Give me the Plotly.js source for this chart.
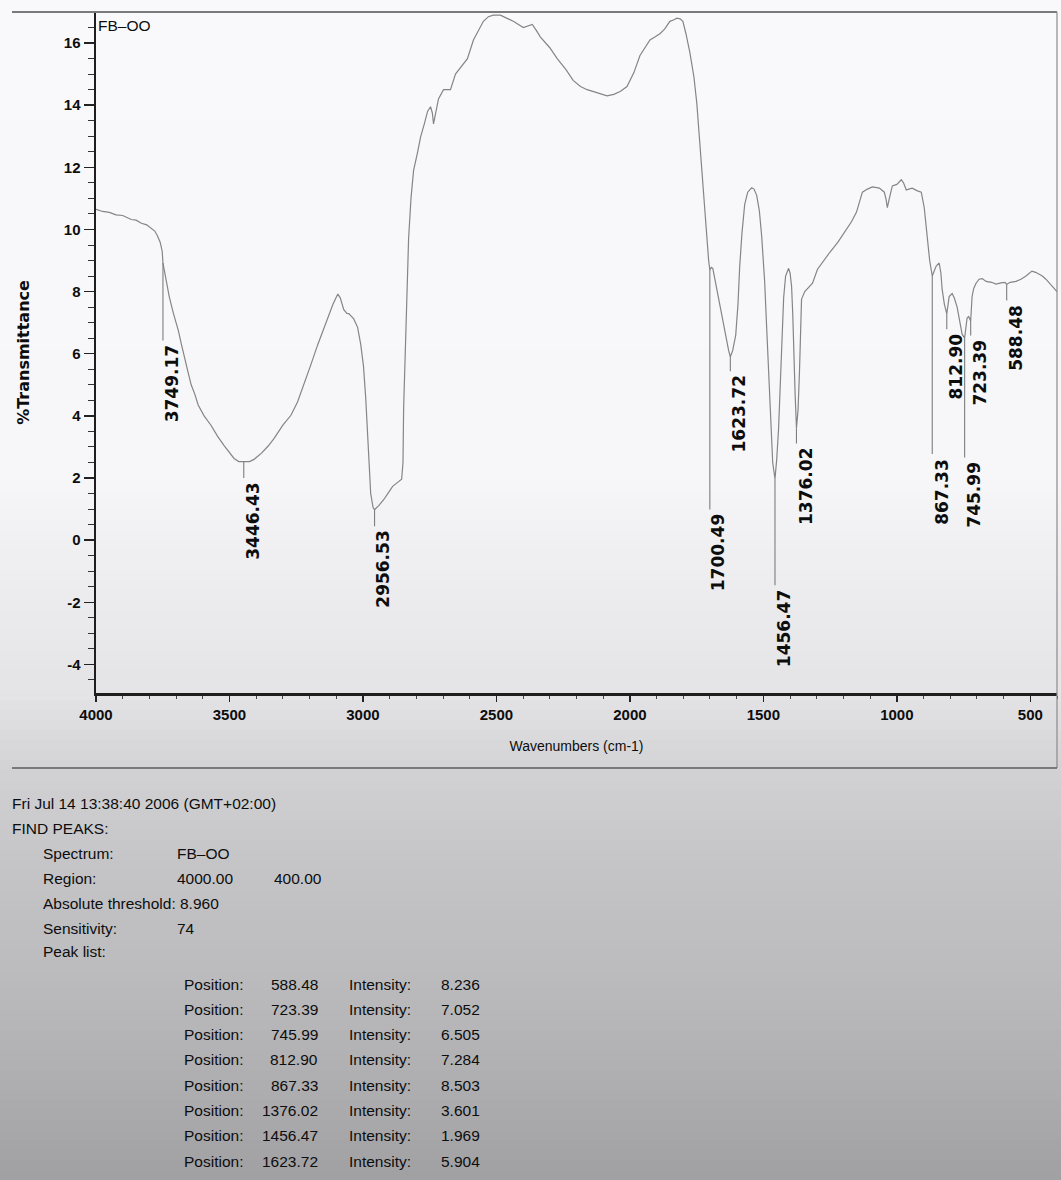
<!DOCTYPE html>
<html>
<head>
<meta charset="utf-8">
<script src="https://cdn.plot.ly/plotly-3.0.1.min.js"></script>
<style>html,body{margin:0;padding:0;background:#f7f7f9;}#chart{width:1061px;height:1180px;}</style>
</head>
<body>
<div id="chart"></div>
<script>
// ---------------- DATA ----------------
const wavenumber = [4000,3975,3950,3925,3900,3880,3868,3850,3830,3810,3793,3780,3770,3760,3752,3749.17,3740,3725.7,3710,3692,3680,3669.6,3655,3643.5,3630,3617.3,3595,3568.7,3545,3520,3500,3482.8,3465,3446.43,3425,3408,3380,3355,3333.4,3300,3269.8,3245,3221.3,3195,3169,3150,3131.6,3112,3100,3094,3085,3071.8,3060,3053.1,3034.5,3020,3008.3,2998,2989.6,2980,2971,2962,2956.53,2940,2922.4,2905,2888.8,2870,2855,2850,2847.6,2840.2,2829,2820,2810.3,2795,2784.2,2770,2758,2746.8,2740,2735.6,2727,2717,2698.2,2672.1,2653.4,2630,2608.6,2586.1,2565,2548.8,2530,2511.4,2485.2,2460,2436.7,2399.3,2380,2365.7,2350,2335.8,2300,2272.3,2240,2212.5,2185,2160.2,2130,2111.6,2085.5,2060,2035,2010.8,1985,1962.2,1940,1924.8,1905,1887.5,1870,1850.1,1835,1824,1812,1801.5,1790,1775.4,1760,1749.2,1740,1730.6,1720,1711.9,1705,1700.49,1695,1689.4,1675,1663.3,1650,1637.2,1630,1623.72,1615,1603.5,1595,1588.7,1580,1570,1558.7,1543.7,1535,1525,1515,1506.4,1495,1487.7,1480,1472.7,1465,1456.47,1450,1442.9,1437,1431.7,1424,1416.7,1410,1405.5,1400,1394.3,1390,1386.8,1381,1376.02,1370,1364.4,1357,1345,1338.2,1315.9,1297.1,1275,1252.3,1220,1188.8,1170,1151.4,1140,1129,1110,1091.7,1065.5,1046.8,1040,1035.6,1028,1016.9,1000,983.3,975,964.6,955,942.2,925,908.5,897.3,886.1,877,867.33,860,852.6,841.4,835,830.2,822,812.90,808,804,792.8,785,774.1,765,755.5,745.99,741,736.8,731,723.39,718.1,712,703.2,692,680,665.8,645,628.4,610,595,588.48,575,553.7,535,516.3,505,493.9,480,467.7,455,441.6,425,411.7,400];
const transmittance = [10.65,10.58,10.55,10.47,10.45,10.36,10.32,10.3,10.2,10.15,10.05,9.95,9.8,9.6,9.3,8.92,8.5,7.84,7.3,6.76,6.3,5.88,5.4,5.0,4.7,4.35,4.0,3.69,3.35,3.04,2.82,2.63,2.53,2.52,2.53,2.6,2.8,3.03,3.27,3.7,4.02,4.45,5.0,5.65,6.3,6.75,7.19,7.6,7.82,7.92,7.8,7.42,7.3,7.29,7.12,6.85,6.3,5.6,4.58,3.0,1.5,1.05,0.98,1.12,1.3,1.52,1.73,1.86,1.96,2.5,4.25,6.4,9.7,11.0,11.9,12.5,12.97,13.4,13.8,13.95,13.75,13.4,13.8,14.2,14.5,14.5,15.0,15.25,15.5,16.1,16.45,16.7,16.85,16.9,16.9,16.8,16.7,16.5,16.55,16.6,16.4,16.2,15.85,15.5,15.15,14.8,14.6,14.5,14.42,14.38,14.3,14.35,14.45,14.6,15.05,15.6,15.9,16.1,16.2,16.3,16.45,16.7,16.75,16.8,16.78,16.7,16.3,15.7,14.9,14.05,13.0,11.9,10.7,9.7,9.0,8.7,8.78,8.75,8.1,7.5,6.95,6.4,6.1,5.904,6.1,6.6,7.6,8.8,9.9,10.8,11.2,11.34,11.3,11.1,10.6,9.8,8.3,6.86,5.2,3.6,2.5,1.969,2.6,3.6,5.0,6.5,7.8,8.5,8.7,8.75,8.6,8.17,7.3,6.2,4.7,3.601,4.2,5.5,7.75,8.0,8.07,8.27,8.72,9.0,9.25,9.6,10.0,10.25,10.55,10.85,11.2,11.3,11.37,11.33,11.2,10.95,10.7,11.0,11.4,11.45,11.6,11.5,11.27,11.3,11.33,11.25,11.2,10.7,9.7,9.0,8.503,8.7,8.82,8.92,8.6,8.07,7.6,7.284,7.6,7.84,7.94,7.8,7.5,7.1,6.63,6.505,6.8,7.15,7.2,7.052,7.84,8.1,8.27,8.4,8.42,8.33,8.3,8.24,8.28,8.3,8.236,8.3,8.33,8.4,8.5,8.58,8.66,8.62,8.56,8.5,8.4,8.25,8.1,8.0];

const peakPositions = [3749.17, 3446.43, 2956.53, 1700.49, 1623.72, 1456.47, 1376.02, 867.33, 812.90, 745.99, 723.39, 588.48];
const peakIntensities = [8.92, 2.52, 0.98, 8.70, 5.904, 1.969, 3.601, 8.503, 7.284, 6.505, 7.052, 8.236];
const peakLabels = ['3749.17','3446.43','2956.53','1700.49','1623.72','1456.47','1376.02','867.33','812.90','745.99','723.39','588.48'];

const xTickVals = [4000, 3500, 3000, 2500, 2000, 1500, 1000, 500];
const xTickText = ['4000','3500','3000','2500','2000','1500','1000','500'];
const yTickVals = [-4, -2, 0, 2, 4, 6, 8, 10, 12, 14, 16];
const yTickText = ['-4','-2','0','2','4','6','8','10','12','14','16'];

const spectrumName = 'FB\u2013OO';
const timestamp = 'Fri Jul 14 13:38:40 2006 (GMT+02:00)';
const regionStart = '4000.00';
const regionEnd = '400.00';
const absThreshold = '8.960';
const sensitivity = '74';
const tablePositions = ['588.48','723.39','745.99','812.90','867.33','1376.02','1456.47','1623.72'];
const tableIntensities = ['8.236','7.052','6.505','7.284','8.503','3.601','1.969','5.904'];

// ---------------- LAYOUT HELPERS (styling only) ----------------
const W = 1061, H = 1180;
const M = {l: 96, r: 4, t: 12, b: 487};
const PW = W - M.l - M.r, PH = H - M.t - M.b;
const px = x => (x - M.l) / PW;
const py = y => (H - M.b - y) / PH;

const FONT_H = '"Liberation Sans", Arial, sans-serif';
const FONT_V = '"DejaVu Sans", "Liberation Sans", sans-serif';
const INK = '#0d0d0d';

// label top positions (axis units) for the rotated peak labels
const labelTops = [6.35, 1.92, 0.37, 0.91, 5.36, -1.53, 3.03, 2.69, 6.71, 2.58, 6.51, 7.63];

const shapes = [];
// scanned-paper background shading bands
const stops = [[0,249],[470,247],[560,239],[693,228],[770,210],[860,197],[1000,185],[1100,172],[1180,160]];
function grayAt(y){
  for (let i = 1; i < stops.length; i++){
    if (y <= stops[i][0]){
      const a = stops[i-1], b = stops[i];
      return a[1] + (b[1]-a[1]) * (y - a[0]) / (b[0]-a[0]);
    }
  }
  return stops[stops.length-1][1];
}
for (let y = 0; y < H; y += 10){
  const g = Math.round(grayAt(y + 5));
  shapes.push({type:'rect', xref:'paper', yref:'paper', x0:px(0), x1:px(W), y0:py(y+10), y1:py(y),
    fillcolor:`rgb(${g},${g},${Math.min(255,g+3)})`, line:{width:0}, layer:'below'});
}
// frame lines
shapes.push({type:'line', xref:'paper', yref:'paper', x0:px(12), x1:px(1057), y0:1, y1:1, line:{color:'#7a7a7a', width:2}});
shapes.push({type:'line', xref:'paper', yref:'paper', x0:px(1057), x1:px(1057), y0:1, y1:py(768), line:{color:'#8a8a8a', width:1.2}});
shapes.push({type:'line', xref:'paper', yref:'paper', x0:px(12), x1:px(1057), y0:py(768), y1:py(768), line:{color:'#5a5a5a', width:1.5}});
// peak marker lines
peakPositions.forEach((p, i) => {
  shapes.push({type:'line', xref:'x', yref:'y', x0:p, x1:p, y0:peakIntensities[i], y1:labelTops[i] + 0.08,
    line:{color:'#7d7d7d', width:1.1}});
});

const annotations = [];
peakPositions.forEach((p, i) => {
  annotations.push({x:p, y:labelTops[i], xref:'x', yref:'y', text:peakLabels[i], showarrow:false,
    textangle:-90, xanchor:'center', yanchor:'top', xshift:9,
    font:{family:FONT_V, size:17, color:INK, weight:'bold'}});
});
annotations.push({x:px(96), y:py(25), xref:'paper', yref:'paper', text:spectrumName, showarrow:false,
  xanchor:'left', yanchor:'middle', font:{family:FONT_H, size:15.5, color:INK}});

function txt(x, y, t, anchor){
  annotations.push({x:px(x), y:py(y), xref:'paper', yref:'paper', text:t, showarrow:false,
    xanchor:anchor || 'left', yanchor:'middle', font:{family:FONT_H, size:15.5, color:INK}});
}
txt(10, 803, timestamp);
txt(10, 828, 'FIND PEAKS:');
txt(41, 853, 'Spectrum:'); txt(175, 853, spectrumName);
txt(41, 878, 'Region:'); txt(175, 878, regionStart); txt(272, 878, regionEnd);
txt(41, 903, 'Absolute threshold: ' + absThreshold);
txt(41, 928, 'Sensitivity:'); txt(175, 928, sensitivity);
txt(41, 951, 'Peak list:');
tablePositions.forEach((p, i) => {
  const y = 984 + i * 25.3;
  txt(182, y, 'Position:');
  txt(320, y, p, 'right');
  txt(347, y, 'Intensity:');
  txt(439, y, tableIntensities[i]);
});

const trace = {
  type:'scatter', mode:'lines', x:wavenumber, y:transmittance,
  line:{color:'#858585', width:1.2, shape:'linear'}, hoverinfo:'skip', showlegend:false
};

const layout = {
  width:W, height:H, margin:M,
  paper_bgcolor:'#f7f7f9', plot_bgcolor:'rgba(0,0,0,0)',
  showlegend:false,
  xaxis:{
    range:[4000, 400], tickmode:'array', tickvals:xTickVals, ticktext:xTickText,
    ticks:'outside', ticklen:6, tickwidth:1.5, tickcolor:'#222',
    showline:true, linewidth:2.5, linecolor:'#1e1e1e', showgrid:false, zeroline:false,
    minor:{tickmode:'linear', tick0:0, dtick:100, ticks:'outside', ticklen:3, tickwidth:1, tickcolor:'#444'},
    tickfont:{family:FONT_H, size:15, color:INK, weight:'bold'},
    title:{text:'Wavenumbers (cm-1)', font:{family:FONT_H, size:14, color:INK}, standoff:20}
  },
  yaxis:{
    range:[-4.92, 17.0], tickmode:'array', tickvals:yTickVals, ticktext:yTickText,
    ticks:'outside', ticklen:10, tickwidth:1.5, tickcolor:'#222',
    showline:true, linewidth:2.5, linecolor:'#1e1e1e', showgrid:false, zeroline:false,
    minor:{tickmode:'linear', tick0:0, dtick:0.5, ticks:'outside', ticklen:6, tickwidth:1, tickcolor:'#333'},
    tickfont:{family:FONT_H, size:15, color:INK, weight:'bold'},
    title:{text:'%Transmittance', font:{family:FONT_V, size:16, color:INK, weight:'bold'}, standoff:30}
  },
  shapes:shapes,
  annotations:annotations
};

Plotly.newPlot('chart', [trace], layout, {displayModeBar:false, staticPlot:true});
</script>
</body>
</html>
